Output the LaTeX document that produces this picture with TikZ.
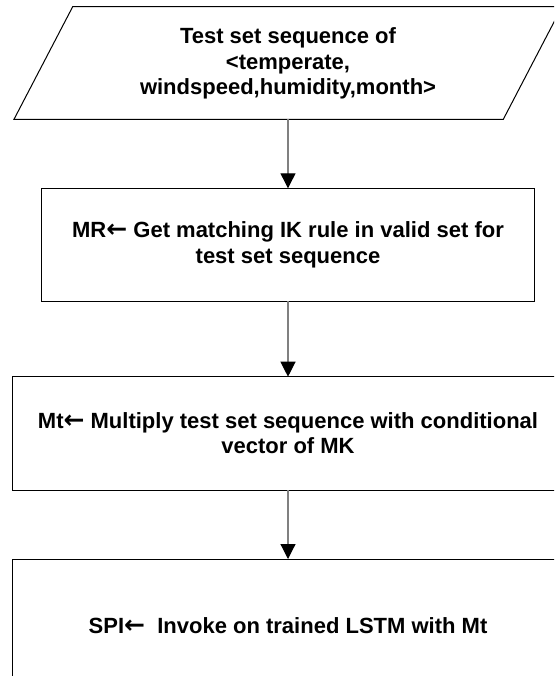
\documentclass[tikz,border=0pt]{standalone}
\usepackage{fontspec}
\setmainfont{Liberation Sans}
\newfontfamily\arrowfont{DejaVu Sans}
\newcommand{\larr}{{\arrowfont\bfseries\fontsize{25}{25}\selectfont ←}}
\usetikzlibrary{arrows.meta}
\begin{document}
\begin{tikzpicture}[x=1pt,y=-1pt,
  txt/.style={font=\bfseries\fontsize{22}{25.5}\selectfont, align=center, inner sep=0pt},
  edge/.style={draw=black, line width=1pt},
  flow/.style={draw=black!50, line width=1.2pt, -{Triangle[length=15pt,width=15pt,color=black]}}]
\useasboundingbox (0,0) rectangle (554,676);
\begin{scope}
\clip (0,0) rectangle (554,676);
% input parallelogram
\draw[edge] (72.7,6.7) -- (562,6.7) -- (503.3,119.3) -- (14,119.3) -- cycle;
\coordinate (pB) at (288,119.3);
\node[txt] (p) at (288,63.5) {Test set sequence of\\<temperate,\\windspeed,humidity,month>};
% process boxes
\draw[edge] (41.3,188.3) rectangle (534.3,301);
\coordinate (b1T) at (288,188.3);
\coordinate (b1B) at (288,301);
\node[txt] (b1) at (288,244.7) {MR\larr\ Get matching IK rule in valid set for\\test set sequence};
\draw[edge] (12,376.7) rectangle (564,490);
\coordinate (b2T) at (288,376.7);
\coordinate (b2B) at (288,490);
\node[txt] (b2) at (288,433.3) {Mt\larr\ Multiply test set sequence with conditional\\vector of MK};
\draw[edge] (12,559) rectangle (564,720);
\coordinate (b3T) at (288,559);
\node[txt] (b3) at (288,626) {SPI\larr\ \ Invoke on trained LSTM with Mt};
% connectors
\draw[flow] (pB) -- (b1T);
\draw[flow] (b1B) -- (b2T);
\draw[flow] (b2B) -- (b3T);
\end{scope}
\end{tikzpicture}
\end{document}
